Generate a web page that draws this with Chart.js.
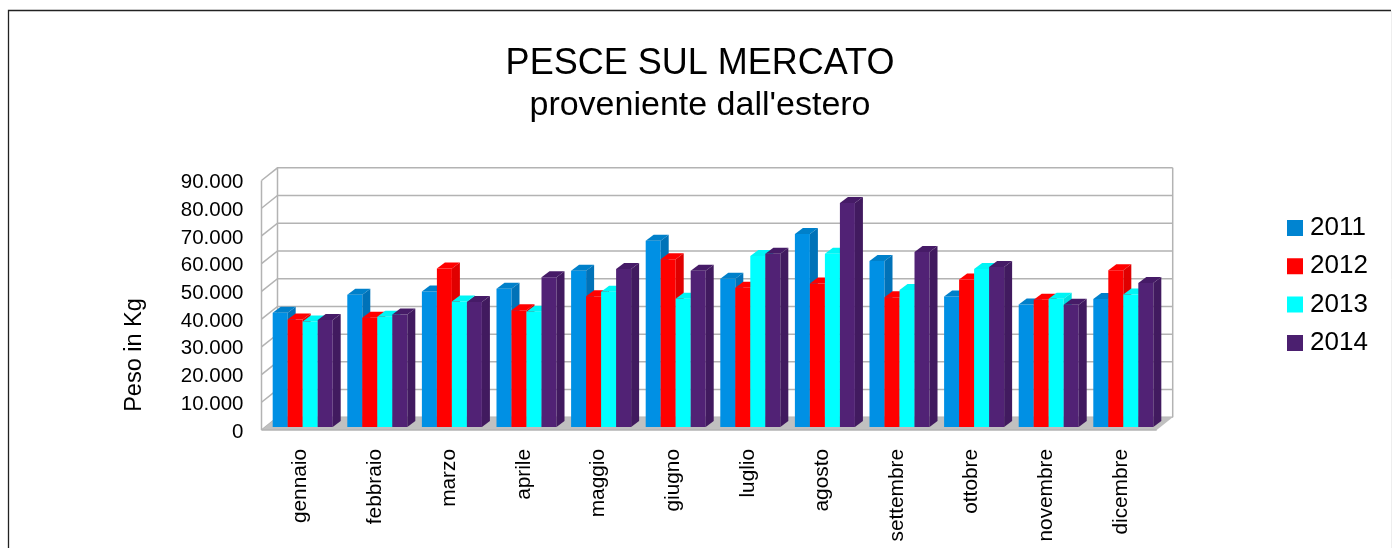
<!DOCTYPE html>
<html>
<head>
<meta charset="utf-8">
<style>html,body{margin:0;padding:0;background:#fff}canvas{display:block}</style>
<script src="https://cdn.jsdelivr.net/npm/chart.js@4"></script>
</head>
<body>
<canvas id="c" width="1398" height="548"></canvas>
<script>
const categories = ['gennaio','febbraio','marzo','aprile','maggio','giugno','luglio','agosto','settembre','ottobre','novembre','dicembre'];
const v2011 = [41200,47700,48900,49900,56400,67200,53500,69600,59900,47100,44200,46200];
const v2012 = [38800,39400,57200,42100,47200,60500,50200,51800,46800,53200,45900,56500];
const v2013 = [38100,39800,45300,41600,48800,46300,61700,62500,49400,57000,46300,47800];
const v2014 = [38600,40600,45100,54000,57000,56400,62500,80800,63100,57700,44100,51900];
const FONT = '"Liberation Sans", Arial, sans-serif';
const shades = [
  {front:'#0090e4', top:'#0080ca', side:'#0072b8', legend:'#0084d1'},
  {front:'#ff0000', top:'#ff0000', side:'#e00000', legend:'#ff0000'},
  {front:'#00ffff', top:'#00f5f5', side:'#00e0e0', legend:'#00ffff'},
  {front:'#512275', top:'#461b67', side:'#411a5f', legend:'#4b1f6f'}
];
const WALL_DX = 16, WALL_DY = 12.7, BAR_DX = 8, BAR_DY = 6, SHIFT_X = 3.9, SHIFT_Y = -3;
const LINE = '#b3b3b3';

const scene = {
  id:'scene',
  afterLayout(chart){
    const l = chart.legend;
    l.left = 1280.7; l.right = 1398; l.top = 202.7; l.bottom = 548;
    chart.boxes.filter(b=>b.position==='top').forEach(b=>{b.left = 1; b.right = 1399;});
  },
  beforeDraw(chart){
    const c = chart.ctx;
    c.save();
    c.fillStyle='#fff'; c.fillRect(0,0,chart.width,chart.height);
    c.lineWidth=1.3; c.strokeStyle='#222';
    c.beginPath(); c.moveTo(8.5,548); c.lineTo(8.5,10.5); c.lineTo(1391,10.5); c.stroke();
    c.strokeStyle='#eeeeee'; c.lineWidth=1;
    c.beginPath(); c.moveTo(1391.5,11); c.lineTo(1391.5,548); c.stroke();
    c.restore();
  },
  beforeDatasetsDraw(chart){
    const c = chart.ctx, a = chart.chartArea, y = chart.scales.y;
    c.save();
    c.strokeStyle = LINE; c.lineWidth = 1.5;
    y.ticks.forEach(t=>{
      const p = y.getPixelForValue(t.value);
      c.beginPath();
      c.moveTo(a.left,p); c.lineTo(a.left+WALL_DX,p-WALL_DY); c.lineTo(a.right+WALL_DX,p-WALL_DY);
      c.stroke();
    });
    c.beginPath();
    c.moveTo(a.left,a.top); c.lineTo(a.left,a.bottom);
    c.moveTo(a.left+WALL_DX,a.top-WALL_DY); c.lineTo(a.left+WALL_DX,a.bottom-WALL_DY);
    c.moveTo(a.right+WALL_DX,a.top-WALL_DY); c.lineTo(a.right+WALL_DX,a.bottom-WALL_DY);
    c.stroke();
    c.fillStyle='#c0c0c0';
    c.beginPath();
    c.moveTo(a.left,a.bottom); c.lineTo(a.right,a.bottom);
    c.lineTo(a.right+WALL_DX,a.bottom-WALL_DY); c.lineTo(a.left+WALL_DX,a.bottom-WALL_DY);
    c.closePath(); c.fill();
    c.beginPath(); c.moveTo(a.left,a.bottom); c.lineTo(a.right,a.bottom); c.stroke();
    c.restore();
    // Paint the series left to right, so each bar covers its left neighbour's side face.
    chart.data.datasets.forEach((d,i)=>{
      const meta = chart.getDatasetMeta(i), s = shades[i];
      c.save();
      c.translate(SHIFT_X,SHIFT_Y);
      meta.controller.draw();
      meta.data.forEach(b=>{
        const {x,y,base,width} = b.getProps(['x','y','base','width'],true);
        const l = x-width/2, r = x+width/2;
        c.fillStyle = s.top;
        c.beginPath(); c.moveTo(l,y); c.lineTo(l+BAR_DX,y-BAR_DY); c.lineTo(r+BAR_DX,y-BAR_DY); c.lineTo(r,y); c.closePath(); c.fill();
        c.fillStyle = s.side;
        c.beginPath(); c.moveTo(r,y); c.lineTo(r+BAR_DX,y-BAR_DY); c.lineTo(r+BAR_DX,base-BAR_DY); c.lineTo(r,base); c.closePath(); c.fill();
      });
      c.restore();
    });
    return false;
  },
  afterDraw(chart){
    const c = chart.ctx;
    c.save();
    c.font = '23.5px '+FONT; c.fillStyle='#000';
    c.translate(134.5,355); c.rotate(-Math.PI/2);
    c.textAlign='center'; c.textBaseline='middle';
    c.fillText('Peso in Kg',0,0);
    c.restore();
  }
};

const series = [['2011',v2011],['2012',v2012],['2013',v2013],['2014',v2014]];
new Chart(document.getElementById('c'),{
  type:'bar',
  data:{
    labels:categories,
    datasets:series.map(([label,data],i)=>({
      label,data,backgroundColor:shades[i].front,borderWidth:0,
      barPercentage:1,categoryPercentage:0.8045
    }))
  },
  options:{
    responsive:false,animation:false,
    layout:{padding:{left:0,top:0,bottom:0,right:144.15}},
    plugins:{
      tooltip:{enabled:false},
      title:{display:true,text:'PESCE SUL MERCATO',color:'#000',
        font:{family:FONT,size:36,weight:'normal',lineHeight:42/36},padding:{top:43,bottom:0}},
      subtitle:{display:true,text:"proveniente dall'estero",color:'#000',
        font:{family:FONT,size:34,weight:'normal',lineHeight:42/34},padding:{top:0,bottom:53.5}},
      legend:{position:'right',align:'start',
        labels:{color:'#000',font:{family:FONT,size:26},usePointStyle:true,pointStyle:'rect',boxWidth:4,boxHeight:16,padding:12.3,
          generateLabels(chart){
            return Chart.defaults.plugins.legend.labels.generateLabels(chart).map((it,i)=>{
              it.fillStyle=shades[i].legend; it.strokeStyle=shades[i].legend; it.lineWidth=0; return it;
            });
          }}}
    },
    scales:{
      x:{grid:{display:false,drawTicks:false},border:{display:false},
        ticks:{color:'#000',font:{family:FONT,size:20.8},minRotation:90,maxRotation:90,padding:19,labelOffset:1.5,autoSkip:false},
        afterFit(s){s.height=118;}},
      y:{min:0,max:90000,grid:{display:false,drawTicks:false},border:{display:false},
        ticks:{color:'#000',font:{family:FONT,size:20.5},padding:18,stepSize:10000,labelOffset:2,
          callback:v=>String(v).replace(/\B(?=(\d{3})+$)/g,'.')},
        afterFit(s){s.width=261.5;}}
    }
  },
  plugins:[scene]
});
</script>
</body>
</html>
